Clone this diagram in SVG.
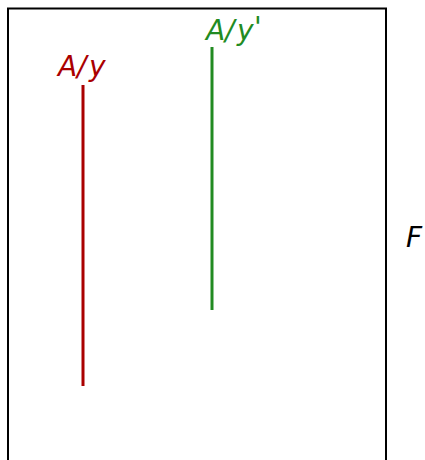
<svg xmlns="http://www.w3.org/2000/svg" width="425" height="460" viewBox="0 0 425 460">
<style>
.lbl{font-family:"DejaVu Sans",sans-serif;font-style:italic;font-size:28px}
</style>
<rect width="425" height="460" fill="#fff"/>
<g id="frame"><rect x="8" y="8.5" width="378" height="470" fill="none" stroke="#000" stroke-width="2"/></g>
<g id="connectors">
<line x1="83" y1="85" x2="83" y2="386" stroke="#aa0000" stroke-width="3"/>
<line x1="212" y1="47" x2="212" y2="310" stroke="#228b22" stroke-width="3"/>
</g>
<g id="label-red"><text class="lbl" y="76" fill="#aa0000"><tspan x="58">A</tspan><tspan x="77">/</tspan><tspan x="89">y</tspan></text></g>
<g id="label-green"><text class="lbl" y="40" fill="#228b22"><tspan x="206">A</tspan><tspan x="225">/</tspan><tspan x="237">y</tspan><tspan x="254" y="37">'</tspan></text></g>
<g id="label-F"><text class="lbl" x="406" y="247" fill="#000">F</text></g>
</svg>
